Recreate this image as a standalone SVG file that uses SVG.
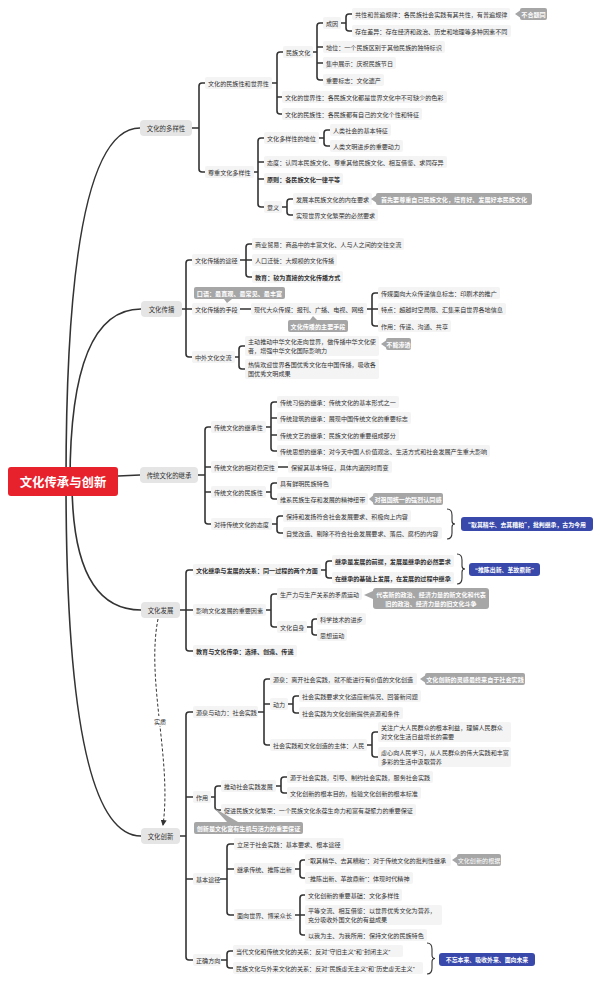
<svg xmlns="http://www.w3.org/2000/svg" width="600" height="982" viewBox="0 0 600 982">
<defs>
<style>
text{font-family:"Noto Sans CJK SC","Noto Sans",sans-serif;font-size:6.1px;fill:#333;dominant-baseline:central}
.q{font-family:"Liberation Sans",sans-serif}
.nb{fill:#f4f4f4}
.mb{fill:#e5e5e5}
.mt{font-size:6.4px;text-anchor:middle}
.bt{font-weight:bold}
.ct{fill:#fff;font-weight:bold;text-anchor:middle}
.cg{fill:#a6a6a6}
.cb{fill:#3949ab}
.ln{fill:none;stroke:#333;stroke-width:1.6;stroke-linecap:round;stroke-linejoin:round}
.br{fill:none;stroke:#333;stroke-width:1.1}
.dash{fill:none;stroke:#333;stroke-width:1;stroke-dasharray:3 2}
</style>
<marker id="arr" markerWidth="6" markerHeight="6" refX="5" refY="3" orient="auto" markerUnits="userSpaceOnUse"><path d="M0,0 L6,3 L0,6 z" fill="#333"/></marker>
</defs>
<rect width="600" height="982" fill="#fff"/>

<g id="connectors">
<path class="ln" d="M66 481 Q66 128 140 128"/>
<path class="ln" d="M70 481 Q70 309 141 309"/>
<path class="ln" d="M118 476 L140 475"/>
<path class="ln" d="M72 481 Q72 610 141 610"/>
<path class="ln" d="M66 481 Q66 836 141 836"/>

<path class="ln" d="M192 128H199M205 83H202Q199 83 199 86V169Q199 172 202 172H205"/>
<path class="ln" d="M272 83H277M283 52H280Q277 52 277 55V111Q277 114 280 114H282M277 97H282"/>
<path class="ln" d="M313 52H317M323 23H320Q317 23 317 26V77Q317 80 320 80H323M317 47H323M317 63H323"/>
<path class="ln" d="M341 23H346M352 14H349Q346 14 346 17V28Q346 31 349 31H352"/>
<path class="ln" d="M254 172H258M264 138H261Q258 138 258 141V204Q258 207 261 207H264M258 162H264M258 179H264"/>
<path class="ln" d="M319 138H324M330 130H327Q324 130 324 133V143Q324 146 327 146H330"/>
<path class="ln" d="M282 207H287M293 199H290Q287 199 287 202V212Q287 215 290 215H293"/>

<path class="ln" d="M182 309H186M192 260H189Q186 260 186 263V354Q186 357 189 357H192M186 309H192"/>
<path class="ln" d="M240 260H246M252 244H249Q246 244 246 247V274Q246 277 249 277H252M246 260H252"/>
<path class="ln" d="M240 309H251"/>
<path class="ln" d="M367 309H372M378 293H375Q372 293 372 296V323Q372 326 375 326H378M372 309H378"/>
<path class="ln" d="M235 357H239M245 346H242Q239 346 239 349V366Q239 369 242 369H245"/>

<path class="ln" d="M198 475H205M211 427H208Q205 427 205 430V521Q205 524 208 524H211M205 467H211M205 492H211"/>
<path class="ln" d="M266 427H271M277 402H274Q271 402 271 405V448Q271 451 274 451H277M271 418H277M271 435H277"/>
<path class="ln" d="M278 467H288"/>
<path class="ln" d="M266 492H271M277 483H274Q271 483 271 486V496Q271 499 274 499H277"/>
<path class="ln" d="M272 524H277M283 516H280Q277 516 277 519V530Q277 533 280 533H283"/>

<path class="ln" d="M180 610H186M193 570H189Q186 570 186 573V648Q186 651 189 651H193M186 610H193"/>
<path class="ln" d="M321 570H326M332 561H329Q326 561 326 564V575Q326 578 329 578H332"/>
<path class="ln" d="M266 610H271M277 594H274Q271 594 271 597V624Q271 627 274 627H277"/>
<path class="ln" d="M307 627H312M317 619H315Q312 619 312 622V632Q312 635 315 635H317"/>

<path class="ln" d="M180 836H186M193 712H189Q186 712 186 715V957Q186 960 189 960H193M186 797H193M186 879H193"/>
<path class="ln" d="M258 712H264M270 679H267Q264 679 264 682V742Q264 745 267 745H270M264 704H270"/>
<path class="ln" d="M288 704H293M299 696H296Q293 696 293 699V710Q293 713 296 713H299"/>
<path class="ln" d="M367 745H372M378 732H375Q372 732 372 735V754Q372 757 375 757H378"/>
<path class="ln" d="M211 797H215M221 786H218Q215 786 215 789V807Q215 810 218 810H221"/>
<path class="ln" d="M276 786H281M287 777H284Q281 777 281 780V790Q281 793 284 793H287"/>
<path class="ln" d="M220 879H227M234 844H230Q227 844 227 847V912Q227 915 230 915H234M227 869H234"/>
<path class="ln" d="M295 869H300M305 860H303Q300 860 300 863V875Q300 878 303 878H305"/>
<path class="ln" d="M295 915H300M305 895H303Q300 895 300 898V932Q300 935 303 935H305M300 915H305"/>
<path class="ln" d="M221 960H227M233 951H230Q227 951 227 954V965Q227 968 230 968H233"/>

<path class="br" d="M447 509Q452 509 452 515V521Q452 524 455 524Q452 524 452 527V533Q452 539 447 539"/>
<path class="br" d="M457 554Q462 554 462 560V566Q462 569 465 569Q462 569 462 572V578Q462 584 457 584"/>
<path class="br" d="M427 943Q432 943 432 949V955Q432 958.5 435 958.5Q432 958.5 432 962V968Q432 974 427 974"/>

<path class="dash" d="M158 619C146 680 172 760 163 825" marker-end="url(#arr)"/>
<rect x="153" y="716" width="14" height="10" fill="#fff"/>
<text x="160" y="721" text-anchor="middle">实质</text>
</g>

<g id="root"><rect x="8" y="467" width="110" height="29" rx="3" fill="#e8222c"/><text x="63" y="481.5" text-anchor="middle" style="font-size:12.4px;font-weight:bold;fill:#fff">文化传承与创新</text></g>

<g id="m1"><rect class="mb" x="140" y="120" width="52" height="16" rx="4"/><text class="mt" x="166" y="128">文化的多样性</text></g>
<g id="a1"><rect class="nb" x="205" y="77" width="67" height="12" rx="2"/><text x="208" y="83">文化的民族性和世界性</text></g>
<g id="a2"><rect class="nb" x="283" y="46" width="30" height="12" rx="2"/><text x="286" y="52">民族文化</text></g>
<g id="a3"><rect class="nb" x="323" y="17" width="18" height="12" rx="2"/><text x="326" y="23">成因</text></g>
<g id="a4"><rect class="nb" x="352" y="8" width="158" height="12" rx="2"/><text x="355" y="14">共性和普遍规律：各民族社会实践有其共性，有普遍规律</text></g>
<g id="co1"><rect class="cg" x="520" y="8" width="27" height="12" rx="2"/><polygon class="cg" points="520,10.5 515,14 520,17.5"/><text class="ct" x="533.5" y="14">不合题同</text></g>
<g id="a5"><rect class="nb" x="352" y="25" width="159" height="12" rx="2"/><text x="355" y="31">存在差异：存在经济和政治、历史和地理等多种因素不同</text></g>
<g id="a6"><rect class="nb" x="323" y="41" width="122" height="12" rx="2"/><text x="326" y="47">地位：一个民族区别于其他民族的独特标识</text></g>
<g id="a7"><rect class="nb" x="323" y="57" width="73" height="12" rx="2"/><text x="326" y="63">集中展示：庆祝民族节日</text></g>
<g id="a8"><rect class="nb" x="323" y="74" width="61" height="12" rx="2"/><text x="326" y="80">重要标志：文化遗产</text></g>
<g id="a9"><rect class="nb" x="282" y="91" width="165" height="12" rx="2"/><text x="285" y="97">文化的世界性：各民族文化都是世界文化中不可缺少的色彩</text></g>
<g id="a10"><rect class="nb" x="282" y="108" width="140" height="12" rx="2"/><text x="285" y="114">文化的民族性：各民族都有自己的文化个性和特征</text></g>
<g id="b1"><rect class="nb" x="205" y="166" width="49" height="12" rx="2"/><text x="208" y="172">尊重文化多样性</text></g>
<g id="b2"><rect class="nb" x="264" y="132" width="55" height="12" rx="2"/><text x="267" y="138">文化多样性的地位</text></g>
<g id="b3"><rect class="nb" x="330" y="124" width="61" height="12" rx="2"/><text x="333" y="130">人类社会的基本特征</text></g>
<g id="b4"><rect class="nb" x="330" y="140" width="73" height="12" rx="2"/><text x="333" y="146">人类文明进步的重要动力</text></g>
<g id="b5"><rect class="nb" x="264" y="156" width="183" height="12" rx="2"/><text x="267" y="162">态度：认同本民族文化、尊重其他民族文化、相互借鉴、求同存异</text></g>
<g id="b6"><rect class="nb" x="264" y="173" width="79" height="12" rx="2"/><text class="bt" x="267" y="179">原则：各民族文化一律平等</text></g>
<g id="b7"><rect class="nb" x="264" y="201" width="18" height="12" rx="2"/><text x="267" y="207">意义</text></g>
<g id="b8"><rect class="nb" x="293" y="193" width="79" height="12" rx="2"/><text x="296" y="199">发展本民族文化的内在要求</text></g>
<g id="co2"><rect class="cg" x="376" y="193" width="156" height="12" rx="2"/><polygon class="cg" points="376,195.5 371,199 376,202.5"/><text class="ct" x="454" y="199">首先要尊重自己民族文化，培育好、发展好本民族文化</text></g>
<g id="b9"><rect class="nb" x="293" y="209" width="85" height="12" rx="2"/><text x="296" y="215">实现世界文化繁荣的必然要求</text></g>

<g id="m2"><rect class="mb" x="141" y="301" width="41" height="16" rx="4"/><text class="mt" x="161.5" y="309">文化传播</text></g>
<g id="c1"><rect class="nb" x="192" y="254" width="48" height="12" rx="2"/><text x="195" y="260">文化传播的途径</text></g>
<g id="c2"><rect class="nb" x="252" y="238" width="152" height="12" rx="2"/><text x="255" y="244">商业贸易：商品中的丰富文化、人与人之间的交往交流</text></g>
<g id="c3"><rect class="nb" x="252" y="254" width="85" height="12" rx="2"/><text x="255" y="260">人口迁徙：大规模的文化传播</text></g>
<g id="c4"><rect class="nb" x="252" y="271" width="91" height="12" rx="2"/><text class="bt" x="255" y="277">教育：较为直接的文化传播方式</text></g>
<g id="co3"><rect class="cg" x="194" y="287" width="91" height="12" rx="2"/><polygon class="cg" points="224,299 232,299 227,303"/><text class="ct" x="239.5" y="293">口语：最直观、最常见、最丰富</text></g>
<g id="c5"><rect class="nb" x="192" y="303" width="48" height="12" rx="2"/><text x="195" y="309">文化传播的手段</text></g>
<g id="c6"><rect class="nb" x="251" y="303" width="116" height="12" rx="2"/><text x="254" y="309">现代大众传媒：报刊、广播、电视、网络</text></g>
<g id="co4"><rect class="cg" x="288" y="320" width="60" height="12" rx="2"/><polygon class="cg" points="310,320 317,320 313,316"/><text class="ct" x="318" y="326">文化传播的主要手段</text></g>
<g id="c7"><rect class="nb" x="378" y="287" width="122" height="12" rx="2"/><text x="381" y="293">传媒面向大众传递信息标志：印刷术的推广</text></g>
<g id="c8"><rect class="nb" x="378" y="303" width="128" height="12" rx="2"/><text x="381" y="309">特点：超越时空局限、汇集来自世界各地信息</text></g>
<g id="c9"><rect class="nb" x="378" y="320" width="73" height="12" rx="2"/><text x="381" y="326">作用：传递、沟通、共享</text></g>
<g id="c10"><rect class="nb" x="192" y="351" width="43" height="12" rx="2"/><text x="195" y="357">中外文化交流</text></g>
<g id="c11"><rect class="nb" x="245" y="336" width="134" height="20" rx="2"/><text x="248" y="341.5">主动推动中华文化走向世界，做传播中华文化使</text><text x="248" y="350.5">者，增强中华文化国际影响力</text></g>
<g id="co5"><rect class="cg" x="386" y="338" width="25" height="12" rx="2"/><polygon class="cg" points="386,340.5 381,344 386,347.5"/><text class="ct" x="398.5" y="344">不能渗透</text></g>
<g id="c12"><rect class="nb" x="245" y="359" width="134" height="20" rx="2"/><text x="248" y="364.5">热情欢迎世界各国优秀文化在中国传播，吸收各</text><text x="248" y="373.5">国优秀文明成果</text></g>

<g id="m3"><rect class="mb" x="140" y="467" width="58" height="16" rx="4"/><text class="mt" x="169" y="475">传统文化的继承</text></g>
<g id="d1"><rect class="nb" x="211" y="421" width="55" height="12" rx="2"/><text x="214" y="427">传统文化的继承性</text></g>
<g id="d2"><rect class="nb" x="277" y="396" width="122" height="12" rx="2"/><text x="280" y="402">传统习俗的继承：传统文化的基本形式之一</text></g>
<g id="d3"><rect class="nb" x="277" y="412" width="134" height="12" rx="2"/><text x="280" y="418">传统建筑的继承：展现中国传统文化的重要标志</text></g>
<g id="d4"><rect class="nb" x="277" y="429" width="122" height="12" rx="2"/><text x="280" y="435">传统文艺的继承：民族文化的重要组成部分</text></g>
<g id="d5"><rect class="nb" x="277" y="445" width="213" height="12" rx="2"/><text x="280" y="451">传统思想的继承：对今天中国人价值观念、生活方式和社会发展产生重大影响</text></g>
<g id="d6"><rect class="nb" x="211" y="461" width="67" height="12" rx="2"/><text x="214" y="467">传统文化的相对稳定性</text></g>
<g id="d7"><rect class="nb" x="288" y="461" width="104" height="12" rx="2"/><text x="291" y="467">保留其基本特征，具体内涵因时而变</text></g>
<g id="d8"><rect class="nb" x="211" y="486" width="55" height="12" rx="2"/><text x="214" y="492">传统文化的民族性</text></g>
<g id="d9"><rect class="nb" x="277" y="477" width="55" height="12" rx="2"/><text x="280" y="483">具有鲜明民族特色</text></g>
<g id="d10"><rect class="nb" x="277" y="493" width="91" height="12" rx="2"/><text x="280" y="499">维系民族生存和发展的精神纽带</text></g>
<g id="co6"><rect class="cg" x="373" y="493" width="70" height="12" rx="2"/><polygon class="cg" points="373,495.5 369,499 373,502.5"/><text class="ct" x="408" y="499">对祖国统一的强烈认同感</text></g>
<g id="d11"><rect class="nb" x="211" y="518" width="61" height="12" rx="2"/><text x="214" y="524">对待传统文化的态度</text></g>
<g id="d12"><rect class="nb" x="283" y="510" width="128" height="12" rx="2"/><text x="286" y="516">保持和发扬符合社会发展要求、积极向上内容</text></g>
<g id="d13"><rect class="nb" x="283" y="527" width="159" height="12" rx="2"/><text x="286" y="533">自觉改造、剔除不符合社会发展要求、落后、腐朽的内容</text></g>
<g id="bl1"><rect class="cb" x="461" y="517" width="132" height="14" rx="3"/><text class="ct" style="font-size:5.9px" x="527" y="524"><tspan class="q">“</tspan>取其精华、去其糟粕<tspan class="q">”</tspan>，批判继承，古为今用</text></g>

<g id="m4"><rect class="mb" x="141" y="602" width="39" height="16" rx="4"/><text class="mt" x="160.5" y="610">文化发展</text></g>
<g id="e1"><rect class="nb" x="193" y="564" width="128" height="12" rx="2"/><text class="bt" x="196" y="570">文化继承与发展的关系：同一过程的两个方面</text></g>
<g id="e2"><rect class="nb" x="332" y="555" width="122" height="12" rx="2"/><text class="bt" x="335" y="561">继承是发展的前提，发展是继承的必然要求</text></g>
<g id="e3"><rect class="nb" x="332" y="572" width="122" height="12" rx="2"/><text class="bt" x="335" y="578">在继承的基础上发展，在发展的过程中继承</text></g>
<g id="bl2"><rect class="cb" x="469" y="563" width="71" height="13" rx="3"/><text class="ct" style="font-size:5.9px" x="504.5" y="569.5"><tspan class="q">“</tspan>推陈出新、革故鼎新<tspan class="q">”</tspan></text></g>
<g id="e4"><rect class="nb" x="193" y="604" width="73" height="12" rx="2"/><text x="196" y="610">影响文化发展的重要因素</text></g>
<g id="e5"><rect class="nb" x="277" y="588" width="85" height="12" rx="2"/><text x="280" y="594">生产力与生产关系的矛盾运动</text></g>
<g id="co7"><rect class="cg" x="373" y="588" width="116" height="21" rx="3"/><polygon class="cg" points="373,591 364,595 373,599"/><text class="ct" x="431" y="594">代表新的政治、经济力量的新文化和代表</text><text class="ct" x="431" y="603">旧的政治、经济力量的旧文化斗争</text></g>
<g id="e6"><rect class="nb" x="277" y="621" width="30" height="12" rx="2"/><text x="280" y="627">文化自身</text></g>
<g id="e7"><rect class="nb" x="317" y="613" width="49" height="12" rx="2"/><text x="320" y="619">科学技术的进步</text></g>
<g id="e8"><rect class="nb" x="317" y="629" width="30" height="12" rx="2"/><text x="320" y="635">思想运动</text></g>
<g id="e9"><rect class="nb" x="193" y="645" width="104" height="12" rx="2"/><text class="bt" x="196" y="651">教育与文化传承：选择、创造、传递</text></g>

<g id="m5"><rect class="mb" x="141" y="828" width="39" height="16" rx="4"/><text class="mt" x="160.5" y="836">文化创新</text></g>
<g id="f1"><rect class="nb" x="193" y="706" width="65" height="12" rx="2"/><text x="196" y="712">源泉与动力：社会实践</text></g>
<g id="f2"><rect class="nb" x="270" y="673" width="147" height="12" rx="2"/><text x="273" y="679">源泉：离开社会实践，就不能进行有价值的文化创造</text></g>
<g id="co8"><rect class="cg" x="425" y="673" width="100" height="12" rx="2"/><polygon class="cg" points="425,675.5 420,679 425,682.5"/><text class="ct" x="475" y="679">文化创新的灵感最终来自于社会实践</text></g>
<g id="f3"><rect class="nb" x="270" y="698" width="18" height="12" rx="2"/><text x="273" y="704">动力</text></g>
<g id="f4"><rect class="nb" x="299" y="690" width="122" height="12" rx="2"/><text x="302" y="696">社会实践要求文化适应新情况、回答新问题</text></g>
<g id="f5"><rect class="nb" x="299" y="707" width="104" height="12" rx="2"/><text x="302" y="713">社会实践为文化创新提供资源和条件</text></g>
<g id="f6"><rect class="nb" x="270" y="739" width="97" height="12" rx="2"/><text x="273" y="745">社会实践和文化创造的主体：人民</text></g>
<g id="f7"><rect class="nb" x="378" y="722" width="133" height="20" rx="2"/><text x="381" y="727.5">关注广大人民群众的根本利益，理解人民群众</text><text x="381" y="736.5">对文化生活日益增长的需要</text></g>
<g id="f8"><rect class="nb" x="378" y="747" width="133" height="20" rx="2"/><text x="381" y="752.5">虚心向人民学习，从人民群众的伟大实践和丰富</text><text x="381" y="761.5">多彩的生活中汲取营养</text></g>
<g id="f9"><rect class="nb" x="193" y="791" width="18" height="12" rx="2"/><text x="196" y="797">作用</text></g>
<g id="f10"><rect class="nb" x="221" y="780" width="55" height="12" rx="2"/><text x="224" y="786">推动社会实践发展</text></g>
<g id="f11"><rect class="nb" x="287" y="771" width="146" height="12" rx="2"/><text x="290" y="777">源于社会实践，引导、制约社会实践，服务社会实践</text></g>
<g id="f12"><rect class="nb" x="287" y="787" width="134" height="12" rx="2"/><text x="290" y="793">文化创新的根本目的，检验文化创新的根本标准</text></g>
<g id="f13"><rect class="nb" x="221" y="804" width="195" height="12" rx="2"/><text x="224" y="810">促进民族文化繁荣：一个民族文化永葆生命力和富有凝聚力的重要保证</text></g>
<g id="co9"><rect class="cg" x="194" y="822" width="109" height="12" rx="2"/><polygon class="cg" points="227,822 238,822 214,808"/><text class="ct" x="248.5" y="828">创新是文化富有生机与活力的重要保证</text></g>
<g id="f14"><rect class="nb" x="193" y="873" width="27" height="12" rx="2"/><text x="196" y="879">基本途径</text></g>
<g id="f15"><rect class="nb" x="234" y="838" width="110" height="12" rx="2"/><text x="237" y="844">立足于社会实践：基本要求、根本途径</text></g>
<g id="f16"><rect class="nb" x="234" y="863" width="61" height="12" rx="2"/><text x="237" y="869">继承传统、推陈出新</text></g>
<g id="f17"><rect class="nb" x="305" y="854" width="146" height="12" rx="2"/><text x="308" y="860"><tspan class="q">“</tspan>取其精华、去其糟粕<tspan class="q">”</tspan>：对于传统文化的批判性继承</text></g>
<g id="co10"><rect class="cg" x="457" y="854" width="44" height="12" rx="2"/><polygon class="cg" points="457,856.5 452,860 457,863.5"/><text class="ct" style="font-weight:normal" x="479" y="860">文化创新的根据</text></g>
<g id="f18"><rect class="nb" x="305" y="872" width="108" height="12" rx="2"/><text x="308" y="878"><tspan class="q">“</tspan>推陈出新、革故鼎新<tspan class="q">”</tspan>：体现时代精神</text></g>
<g id="f19"><rect class="nb" x="234" y="909" width="61" height="12" rx="2"/><text x="237" y="915">面向世界、博采众长</text></g>
<g id="f20"><rect class="nb" x="305" y="889" width="97" height="12" rx="2"/><text x="308" y="895">文化创新的重要基础：文化多样性</text></g>
<g id="f21"><rect class="nb" x="305" y="905" width="137" height="20" rx="2"/><text x="308" y="910.5">平等交流、相互借鉴：以世界优秀文化为营养，</text><text x="308" y="919.5">充分吸收外国文化的有益成果</text></g>
<g id="f22"><rect class="nb" x="305" y="929" width="122" height="12" rx="2"/><text x="308" y="935">以我为主、为我所用：保持文化的民族特色</text></g>
<g id="f23"><rect class="nb" x="193" y="954" width="28" height="12" rx="2"/><text x="196" y="960">正确方向</text></g>
<g id="f24"><rect class="nb" x="233" y="945" width="170" height="12" rx="2"/><text x="236" y="951">当代文化和传统文化的关系：反对<tspan class="q">“</tspan>守旧主义<tspan class="q">”</tspan>和<tspan class="q">“</tspan>封闭主义<tspan class="q">”</tspan></text></g>
<g id="f25"><rect class="nb" x="233" y="962" width="190" height="12" rx="2"/><text x="236" y="968">民族文化与外来文化的关系：反对<tspan class="q">“</tspan>民族虚无主义<tspan class="q">”</tspan>和<tspan class="q">“</tspan>历史虚无主义<tspan class="q">”</tspan></text></g>
<g id="bl3"><rect class="cb" x="439" y="953" width="96" height="13" rx="3"/><text class="ct" style="font-size:5.9px" x="487" y="959.5">不忘本来、吸收外来、面向未来</text></g>
</svg>
